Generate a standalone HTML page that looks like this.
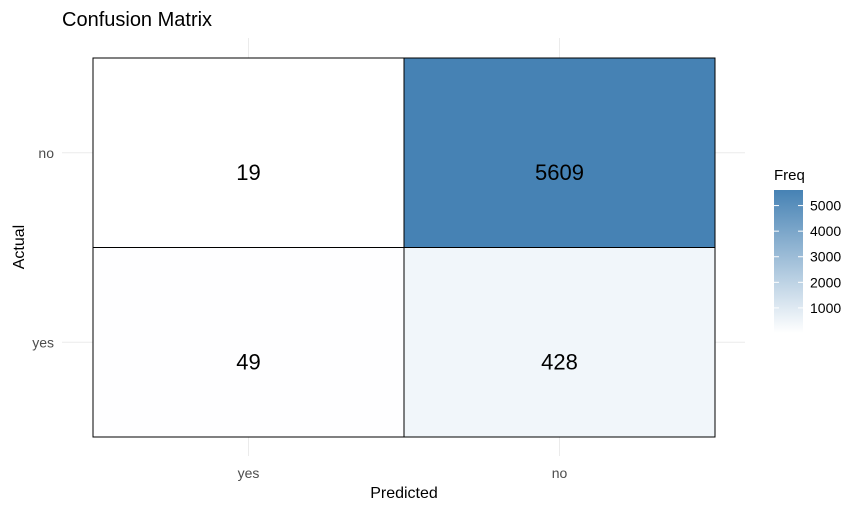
<!DOCTYPE html>
<html><head><meta charset="utf-8"><style>
body{margin:0;background:#fff;}
svg{display:block;font-family:"Liberation Sans",Arial,sans-serif;}
</style></head><body>
<svg id="chart" width="862" height="512" viewBox="0 0 862 512">
<text x="62" y="26" font-size="20" fill="#000">Confusion Matrix</text>
<g id="grid"></g>
<g id="tiles"></g>
<g id="axes"></g>
<text x="404" y="498" font-size="16" text-anchor="middle" fill="#000">Predicted</text>
<text transform="translate(24,247) rotate(-90)" font-size="16" text-anchor="middle" fill="#000">Actual</text>
<g id="legend">
<text x="774" y="180" font-size="15" fill="#000">Freq</text>
<defs><linearGradient id="grad" x1="0" y1="1" x2="0" y2="0"><stop offset="0" stop-color="#ffffff"/><stop offset="1" stop-color="#4682b4"/></linearGradient></defs>
<rect x="774" y="190" width="29" height="143" fill="url(#grad)"/>
</g>
</svg>
<script>
const xCats = ["yes","no"];
const yCats = ["no","yes"];
const cellX = ["yes","no","yes","no"];
const cellY = ["no","no","yes","yes"];
const freq = [19,5609,49,428];
const legendTicks = [1000,2000,3000,4000,5000];

const NS="http://www.w3.org/2000/svg";
const px0=93, px1=715, py0=58, py1=437;
const bw=(px1-px0)/xCats.length, bh=(py1-py0)/yCats.length;
const xPos=c=>px0+bw*(xCats.indexOf(c)+0.5);
const yPos=c=>py0+bh*(yCats.indexOf(c)+0.5);
const fmin=Math.min(...freq), fmax=Math.max(...freq);
function color(v){const t=(v-fmin)/(fmax-fmin);
 const a=[255,255,255],b=[70,130,180];
 return "rgb("+a.map((x,i)=>Math.round(x+(b[i]-x)*t)).join(",")+")";}
function mk(tag,at,parent){const e=document.createElementNS(NS,tag);for(const k in at)e.setAttribute(k,at[k]);parent.appendChild(e);return e;}
const grid=document.getElementById('grid'),tiles=document.getElementById('tiles'),axes=document.getElementById('axes'),legend=document.getElementById('legend');
xCats.forEach(c=>{const g=mk('line',{x1:xPos(c),x2:xPos(c),y1:38,y2:456,stroke:'#ebebeb','stroke-width':1},grid);


const t=mk('text',{x:xPos(c),y:478,'font-size':14,'text-anchor':'middle',fill:'#4d4d4d'},axes);t.textContent=c;

});
yCats.forEach(c=>{const g=mk('line',{x1:62,x2:745,y1:yPos(c),y2:yPos(c),stroke:'#ebebeb','stroke-width':1},grid);


const t=mk('text',{x:54,y:yPos(c)+5,'font-size':14,'text-anchor':'end',fill:'#4d4d4d'},axes);t.textContent=c;

});
freq.forEach((v,i)=>{const cx=xPos(cellX[i]),cy=yPos(cellY[i]);
const r=mk('rect',{x:cx-bw/2,y:cy-bh/2,width:bw,height:bh,fill:color(v),stroke:'#000','stroke-width':1},tiles);


const t=mk('text',{x:cx,y:cy+27,'font-size':22,'text-anchor':'middle',fill:'#000'},tiles);t.textContent=v;

});
const ly=v=>333-(v-fmin)/(fmax-fmin)*143;
legendTicks.forEach(v=>{const y=ly(v);
mk('line',{x1:774,x2:779,y1:y,y2:y,stroke:'#fff','stroke-width':1},legend);
mk('line',{x1:798,x2:803,y1:y,y2:y,stroke:'#fff','stroke-width':1},legend);
const t=mk('text',{x:810,y:y+5,'font-size':14,fill:'#000'},legend);t.textContent=v;

});
</script>
</body></html>
